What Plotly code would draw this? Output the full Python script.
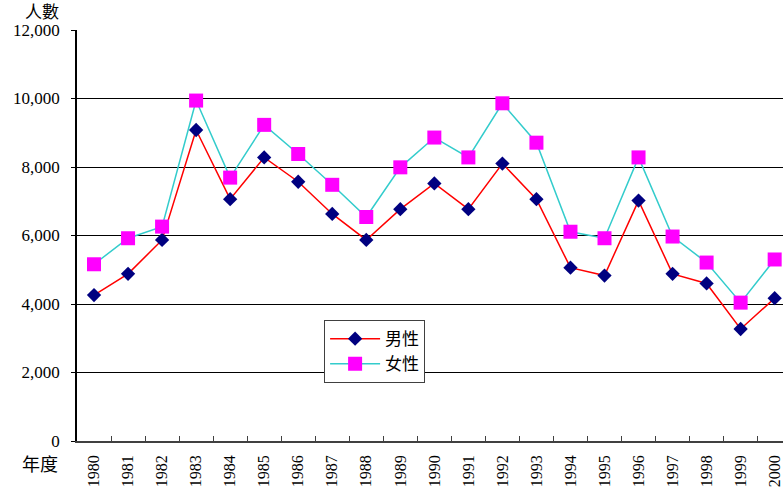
import plotly.graph_objects as go

years = [str(y) for y in range(1980, 2001)]
male = [4260, 4880, 5870, 9080, 7060, 8280, 7570, 6630, 5870, 6770,
        7520, 6770, 8100, 7060, 5060, 4830, 7020, 4880, 4600, 3270, 4170]
female = [5160, 5920, 6260, 9940, 7690, 9230, 8380, 7480, 6540, 7990,
          8860, 8280, 9860, 8710, 6110, 5920, 8280, 5970, 5210, 4040, 5300]

FONT = "Liberation Serif, Noto Sans CJK TC, serif"

fig = go.Figure()
fig.add_trace(go.Scatter(
    x=years, y=male, name="男性", mode="lines+markers",
    line=dict(color="#ff0000", width=1.5),
    marker=dict(symbol="diamond", size=11, color="#000080"),
))
fig.add_trace(go.Scatter(
    x=years, y=female, name="女性", mode="lines+markers",
    line=dict(color="#33cccc", width=1.5),
    marker=dict(symbol="square", size=14, color="#ff00ff"),
))

fig.update_layout(
    width=783, height=492,
    margin=dict(l=77, r=0, t=30, b=51),
    paper_bgcolor="white", plot_bgcolor="white",
    font=dict(family=FONT, color="black", size=16),
    showlegend=True,
    legend=dict(
        x=0.35, y=0.294, xanchor="left", yanchor="top",
        bgcolor="white", bordercolor="#404040", borderwidth=1,
        font=dict(size=17, family=FONT), itemwidth=50,
        tracegroupgap=0,
    ),
    xaxis=dict(
        type="category", range=[-0.5, 20.245],
        tickson="boundaries", ticks="inside", ticklen=5, tickcolor="#404040",
        tickangle=-90, showgrid=False, showline=True, linecolor="#404040",
        linewidth=1.5, tickfont=dict(size=16, family=FONT),
        ticklabelstandoff=6,
    ),
    yaxis=dict(
        range=[0, 12000], dtick=2000, tickformat=",",
        showgrid=True, gridcolor="black", gridwidth=1,
        showline=True, linecolor="black", linewidth=1.5,
        ticks="outside", ticklen=4, tickcolor="black",
        zeroline=False, tickfont=dict(size=17, family=FONT),
        ticklabelstandoff=8,
    ),
)

fig.add_annotation(text="人數", xref="paper", yref="paper", x=-0.05, y=1.0,
                   xanchor="center", yanchor="bottom", yshift=6, showarrow=False,
                   font=dict(size=17, family=FONT))
fig.add_annotation(text="年度", xref="paper", yref="paper", x=-0.052, y=0,
                   xanchor="center", yanchor="middle", yshift=-24, showarrow=False,
                   font=dict(size=18, family=FONT))

fig.write_html("out.html",
               config={"displayModeBar": False},
               post_script="document.body.style.margin='0';document.body.style.overflow='hidden';")
